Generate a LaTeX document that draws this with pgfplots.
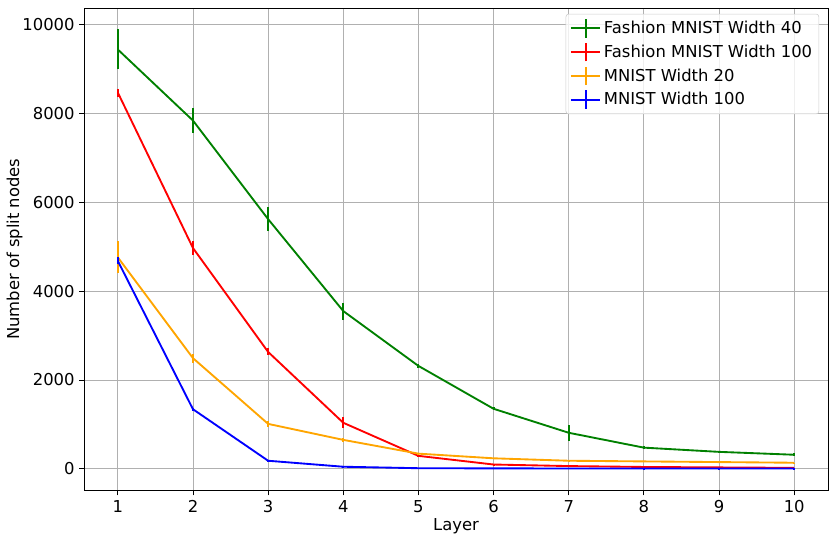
\documentclass[border=0pt]{standalone}
\usepackage{pgfplots}
\pgfplotsset{compat=1.18}
\usepackage{pgfplotstable}
\usepackage{fontspec}
\setmainfont{DejaVu Sans}

\definecolor{mplgreen}{RGB}{0,128,0}
\definecolor{mplred}{RGB}{255,0,0}
\definecolor{mplorange}{RGB}{255,165,0}
\definecolor{mplblue}{RGB}{0,0,255}
\definecolor{gridgray}{RGB}{176,176,176}
\definecolor{legendgray}{RGB}{204,204,204}

% layer, mean, std
\pgfplotstableread{
layer val err
1 9440 450
2 7840 280
3 5620 270
4 3550 190
5 2315 40
6 1350 30
7 810 180
8 475 40
9 380 30
10 315 30
}\fmnistforty

\pgfplotstableread{
layer val err
1 8470 90
2 4970 150
3 2630 80
4 1035 120
5 290 30
6 95 20
7 60 10
8 40 10
9 30 5
10 20 5
}\fmnisthundred

\pgfplotstableread{
layer val err
1 4760 360
2 2490 100
3 1010 60
4 650 40
5 340 20
6 235 10
7 180 10
8 165 10
9 150 5
10 135 5
}\mnisttwenty

\pgfplotstableread{
layer val err
1 4680 80
2 1340 30
3 180 10
4 45 5
5 12 2
6 8 2
7 6 1
8 5 1
9 5 1
10 5 1
}\mnisthundred

\pgfplotsset{
  ebar/.style={error bars/.cd, y dir=both, y explicit,
    error mark=none, error bar style={line width=1.4pt}},
}

\begin{document}
\begin{tikzpicture}
\begin{axis}[
  name=main,
  scale only axis,
  width=558pt, height=362pt,
  xmin=0.55, xmax=10.45,
  ymin=-494, ymax=10374,
  xtick={1,2,...,10},
  ytick={0,2000,4000,6000,8000,10000},
  scaled y ticks=false,
  tick pos=left,
  grid=major,
  grid style={gridgray, line width=0.6pt},
  axis line style={line width=0.6pt},
  tick align=outside,
  tick style={black, line width=0.6pt},
  major tick length=3.5pt,
  font=\fontsize{12.3}{14.5}\selectfont,
  /pgf/number format/assume math mode=true,
  /pgf/number format/1000 sep={},
  xlabel={Layer},
  ylabel={Number of split nodes},
  xlabel style={yshift=2pt},
  ylabel style={yshift=-7pt},
  legend cell align=left,
  legend style={at={(0.988,0.988)}, anchor=north east,
    draw=legendgray, rounded corners=2pt, fill=white, fill opacity=0.8,
    text opacity=1, font=\fontsize{12.3}{14.5}\selectfont,
    row sep=2.3pt, inner sep=3pt},
  legend image code/.code={
    \draw[#1, line width=1.5pt] (0pt,0pt) -- (22pt,0pt);
    \draw[#1, line width=1.5pt] (11pt,-7pt) -- (11pt,7pt);
  },
  every axis plot/.append style={line width=1.4pt, mark=none},
]
\addplot[mplgreen, ebar]
  table[x=layer, y=val, y error=err] {\fmnistforty};
\addlegendentry{Fashion MNIST Width 40}
\addplot[mplred, ebar]
  table[x=layer, y=val, y error=err] {\fmnisthundred};
\addlegendentry{Fashion MNIST Width 100}
\addplot[mplorange, ebar]
  table[x=layer, y=val, y error=err] {\mnisttwenty};
\addlegendentry{MNIST Width 20}
\addplot[mplblue, ebar]
  table[x=layer, y=val, y error=err] {\mnisthundred};
\addlegendentry{MNIST Width 100}
\end{axis}
\pgfresetboundingbox
\path ([shift={(-63pt,-37.5pt)}]main.south west) rectangle ([shift={(5.25pt,6pt)}]main.north east);
\end{tikzpicture}
\end{document}
